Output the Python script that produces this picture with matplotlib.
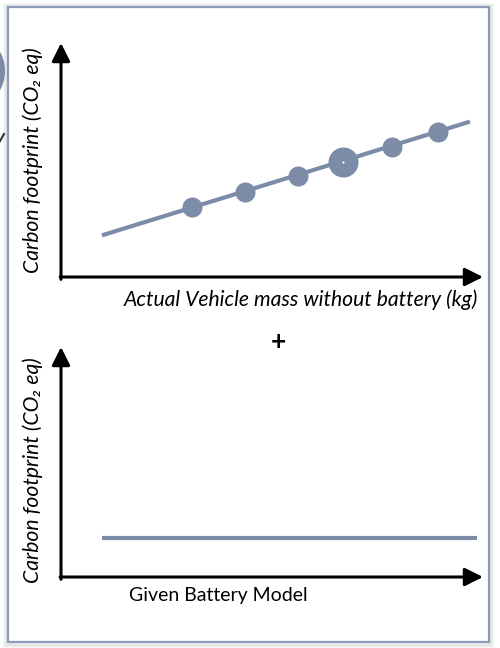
import matplotlib
matplotlib.use("Agg")
import matplotlib.pyplot as plt
from matplotlib.patches import Rectangle, Circle

# ---------------- data ----------------
# top panel: carbon footprint vs vehicle mass (arbitrary units, 0-10)
line_x = [0.97, 9.69]
line_y = [1.78, 6.64]
pts_x = [3.10, 4.36, 5.62, 6.68, 7.84, 8.93]
pts_y = [3.0, 3.65, 4.3, 4.9, 5.55, 6.2]
pts_size = [14.4, 14.4, 14.4, 21.6, 14.4, 14.4]
highlight_idx = 3
# bottom panel: constant carbon footprint for given battery model
batt_x = [0.97, 9.86]
batt_y = [1.70, 1.70]

ylabel_txt = "Carbon footprint (CO\u2082 eq)"
xlabel_top = "Actual Vehicle mass without battery (kg)"
xlabel_bot = "Given Battery Model"

W, H = 500, 648
COL = "#7b8ba8"
BORDER = "#8a9ab8"

plt.rcParams["font.family"] = ["Lato", "DejaVu Sans"]

fig = plt.figure(figsize=(W / 100, H / 100), dpi=100)
fig.patch.set_facecolor("white")

def fx(px):
    return px / W

def fy(py):
    return 1 - py / H

# shadow + border
for i, a in enumerate([0.05, 0.05, 0.04, 0.03]):
    fig.patches.append(Rectangle((fx(8 - i - 1), fy(642 + i + 2)), (481 + 2 * i + 2) / W, (635 + 2 * i + 2) / H,
                                 transform=fig.transFigure, fill=False, edgecolor="black",
                                 alpha=a, linewidth=1.5, zorder=0))
fig.patches.append(Rectangle((fx(8), fy(642)), 481 / W, 635 / H, transform=fig.transFigure,
                             fill=False, edgecolor=BORDER, linewidth=1.6, zorder=1))

# left-edge cropped artifacts
fig.patches.append(Circle((fx(-20), fy(71)), 25 / W, transform=fig.transFigure,
                          facecolor=COL, edgecolor="none", zorder=1))
fig.lines.append(plt.Line2D([fx(0), fx(4)], [fy(141), fy(134)], transform=fig.transFigure,
                            color="#333333", lw=1.5))

def make_axes(origin_px, top_py, right_px=483):
    ox, oy = origin_px
    ax = fig.add_axes([fx(ox), fy(oy), (right_px - ox) / W, (oy - top_py) / H])
    ax.set_xlim(0, 10)
    ax.set_ylim(0, 10)
    ax.axis("off")
    ax.patch.set_alpha(0)
    arrow = dict(arrowstyle="-|>,head_length=1.1,head_width=0.55", color="black", lw=2.2,
                 shrinkA=0, shrinkB=0)
    ax.annotate("", xy=(0, 1), xytext=(0, -0.01), xycoords="axes fraction", arrowprops=arrow,
                annotation_clip=False)
    ax.annotate("", xy=(1, 0), xytext=(-0.002, 0), xycoords="axes fraction", arrowprops=arrow,
                annotation_clip=False)
    return ax

# top panel
ax1 = make_axes((61, 277), 43)
ax1.plot(line_x, line_y, color=COL, lw=3.0, solid_capstyle="butt", zorder=2)
for x, y, s in zip(pts_x, pts_y, pts_size):
    ax1.plot([x], [y], "o", color=COL, markersize=s, markeredgewidth=0, zorder=3)
ax1.plot([pts_x[highlight_idx]], [pts_y[highlight_idx]], "o", color="white",
         markersize=1.6, markeredgewidth=0, zorder=4)

# bottom panel
ax2 = make_axes((61, 577), 347)
ax2.plot(batt_x, batt_y, color=COL, lw=3.0, solid_capstyle="butt", zorder=2)

# texts
fs_it = 15.2
fs_rg = 14.0
fig.text(fx(33), fy(160), ylabel_txt, rotation=90, ha="center", va="center",
         fontsize=fs_it, style="italic")
fig.text(fx(33), fy(470), ylabel_txt, rotation=90, ha="center", va="center",
         fontsize=fs_it, style="italic")
fig.text(fx(478), fy(300), xlabel_top, ha="right", va="center", fontsize=fs_it, style="italic")
fig.text(fx(129), fy(595), xlabel_bot, ha="left", va="center", fontsize=fs_rg)
fig.text(fx(278), fy(342), "+", ha="center", va="center", fontsize=19, fontweight="bold")

fig.savefig("out.png", dpi=100, facecolor="white")
